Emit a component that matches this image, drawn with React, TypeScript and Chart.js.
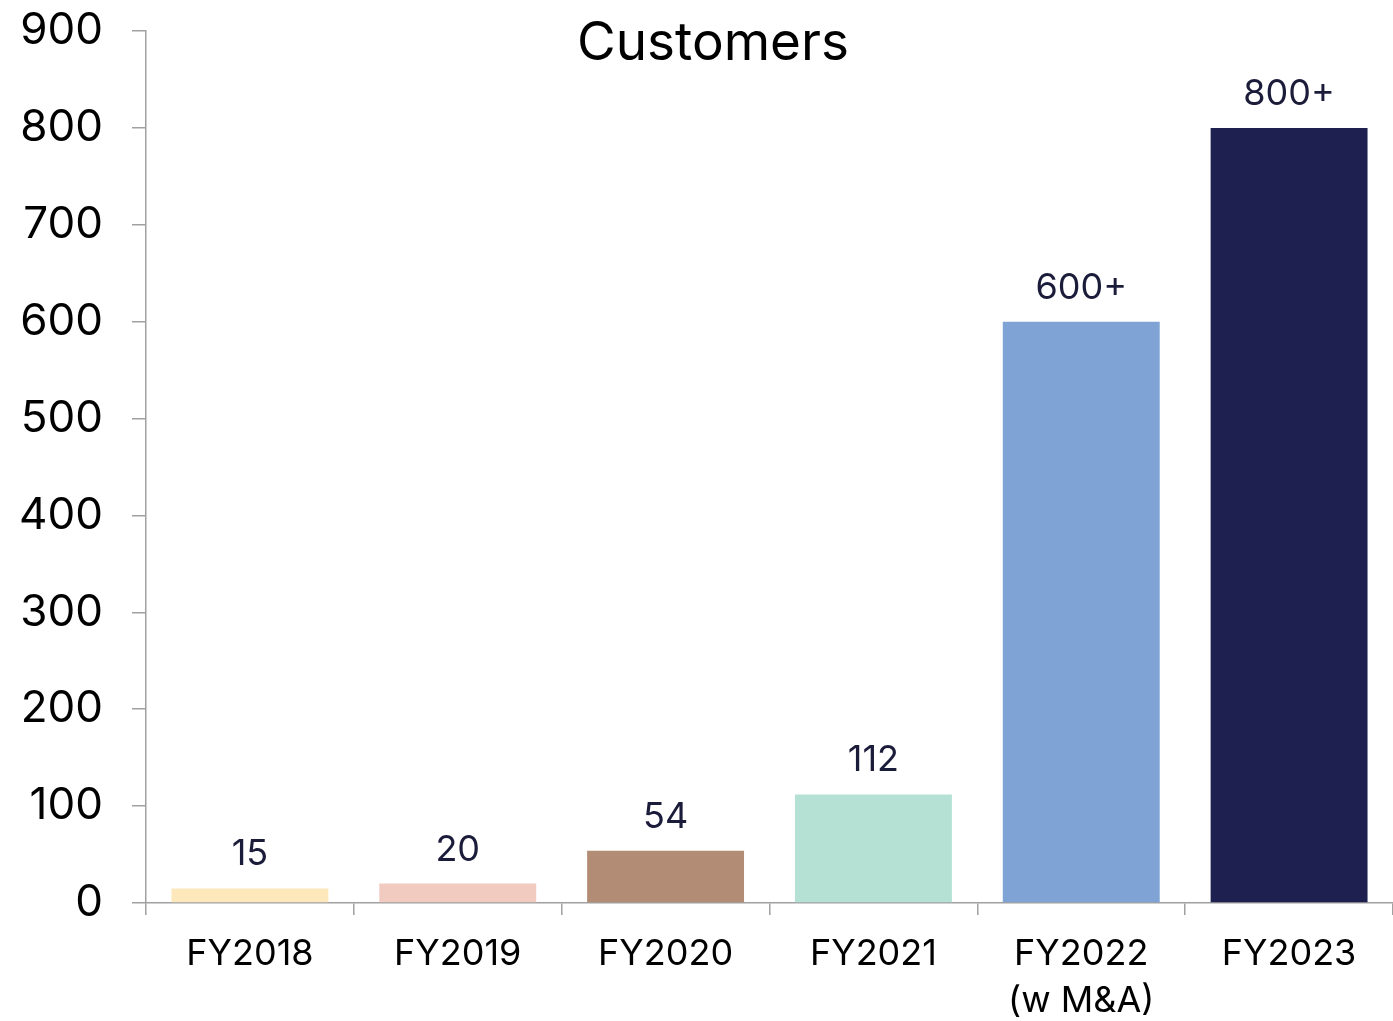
import React, { useEffect, useRef } from "react";
import { Chart, registerables } from "chart.js";

Chart.register(...registerables);

const categories: (string | string[])[] = ["FY2018", "FY2019", "FY2020", "FY2021", ["FY2022", "(w M&A)"], "FY2023"];
const customers = [15, 20, 54, 112, 600, 800];
const valueLabels = ["15", "20", "54", "112", "600+", "800+"];
const barColors = ["#FCE8BA", "#F1CAC0", "#B38C76", "#B4E1D3", "#7FA3D4", "#1E2050"];
const chartTitle = "Customers";

const FONT = "Inter, 'Noto Sans', sans-serif";

export default function App() {
  const ref = useRef<HTMLCanvasElement | null>(null);

  useEffect(() => {
    if (!ref.current) return;
    const overlay = {
      id: "overlay",
      afterDatasetsDraw(chart: any) {
        const ctx = chart.ctx;
        const meta = chart.getDatasetMeta(0);
        ctx.save();
        ctx.fillStyle = "#1B1B3A";
        ctx.font = `36px ${FONT}`;
        ctx.textAlign = "center";
        ctx.textBaseline = "alphabetic";
        meta.data.forEach((bar: any, i: number) => {
          ctx.fillText(valueLabels[i], bar.x, bar.y - 23);
        });
        ctx.fillStyle = "#000";
        ctx.font = `53px ${FONT}`;
        ctx.textBaseline = "middle";
        ctx.fillText(chartTitle, 713, 44);
        ctx.restore();
      },
    };
    const chart = new Chart(ref.current, {
      type: "bar",
      data: {
        labels: categories,
        datasets: [
          {
            data: customers,
            backgroundColor: barColors,
            categoryPercentage: 1,
            barPercentage: 0.755,
          },
        ],
      },
      options: {
        animation: false,
        responsive: true,
        maintainAspectRatio: false,
        layout: { padding: { top: 31, right: -3, left: 0, bottom: 0 } },
        plugins: { legend: { display: false }, tooltip: { enabled: false }, title: { display: false } },
        scales: {
          x: {
            grid: { display: true, drawOnChartArea: false, drawTicks: true, tickLength: 12, color: "#A0A0A0", lineWidth: 1.5 },
            border: { display: true, color: "#A0A0A0", width: 1.5 },
            ticks: { color: "#000", font: { family: FONT, size: 36, lineHeight: 1.32 }, padding: 15, maxRotation: 0, autoSkip: false },
            afterFit: (s: any) => { s.height = 118; s.paddingLeft = 0; s.paddingRight = 0; },
          },
          y: {
            min: 0,
            max: 900,
            grid: { display: true, drawOnChartArea: false, drawTicks: true, tickLength: 14, color: "#A0A0A0", lineWidth: 1.5 },
            border: { display: true, color: "#A0A0A0", width: 1.5 },
            ticks: { stepSize: 100, color: "#000", font: { family: FONT, size: 44 }, padding: 29 },
            afterFit: (s: any) => { s.width = 146; s.paddingTop = 0; s.paddingBottom = 0; },
          },
        },
      },
      plugins: [overlay],
    });
    return () => chart.destroy();
  }, []);

  return (
    <div style={{ position: "fixed", left: 0, top: 0, width: 1393, height: 1021, background: "#fff" }}>
      <canvas ref={ref} />
    </div>
  );
}
